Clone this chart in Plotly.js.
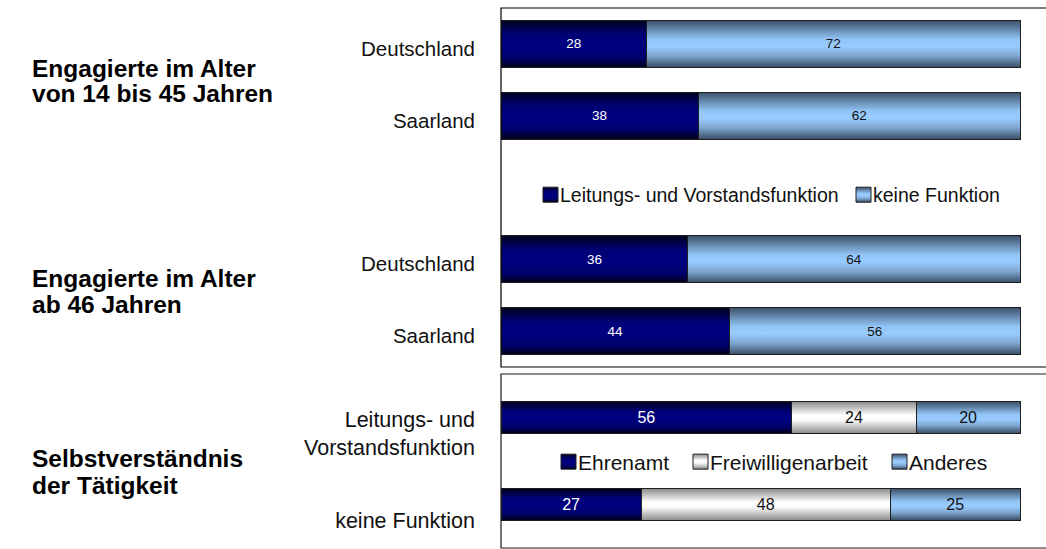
<!DOCTYPE html>
<html>
<head>
<meta charset="utf-8">
<script src="https://cdn.plot.ly/plotly-3.0.1.min.js"></script>
<style>
  html, body { margin: 0; padding: 0; background: #ffffff; }
  #chart { width: 1046px; height: 549px; }
  #defs { position: absolute; width: 0; height: 0; }
</style>
</head>
<body>
<svg id="defs" width="0" height="0">
  <defs>
    <linearGradient id="gNavy" x1="0" y1="0" x2="0" y2="1">
      <stop offset="0" stop-color="#00001c"/>
      <stop offset="0.3" stop-color="#000076"/>
      <stop offset="0.55" stop-color="#000080"/>
      <stop offset="0.8" stop-color="#00006c"/>
      <stop offset="1" stop-color="#000016"/>
    </linearGradient>
    <linearGradient id="gBlue" x1="0" y1="0" x2="0" y2="1">
      <stop offset="0" stop-color="#3a4f68"/>
      <stop offset="0.4" stop-color="#92c4f6"/>
      <stop offset="0.55" stop-color="#99ccff"/>
      <stop offset="0.75" stop-color="#7fa8d2"/>
      <stop offset="1" stop-color="#394c63"/>
    </linearGradient>
    <linearGradient id="gWhite" x1="0" y1="0" x2="0" y2="1">
      <stop offset="0" stop-color="#8a8a8a"/>
      <stop offset="0.42" stop-color="#ffffff"/>
      <stop offset="0.58" stop-color="#fbfbfb"/>
      <stop offset="1" stop-color="#8c8c8c"/>
    </linearGradient>
  </defs>
</svg>
<div id="chart"></div>
<script>
// ---- data ----
const groupTitles = [
  ['Engagierte im Alter', 'von 14 bis 45 Jahren'],
  ['Engagierte im Alter', 'ab 46 Jahren'],
  ['Selbstverständnis', 'der Tätigkeit']
];
const regionLabels = ['Deutschland', 'Saarland', 'Deutschland', 'Saarland'];
const leitungsfunktion = [28, 38, 36, 44];
const keineFunktion = [72, 62, 64, 56];
const topSeriesNames = ['Leitungs- und Vorstandsfunktion', 'keine Funktion'];

const roleLabels = ['Leitungs- und<br>Vorstandsfunktion', 'keine Funktion'];
const ehrenamt = [56, 27];
const freiwilligenarbeit = [24, 48];
const anderes = [20, 25];
const bottomSeriesNames = ['Ehrenamt', 'Freiwilligenarbeit', 'Anderes'];

// ---- layout helpers ----
// two age groups of two bars, with an empty slot between groups
const topSlots = regionLabels.map((_, i) => i + Math.floor(i / 2));
const bottomSlots = roleLabels.map((_, i) => i);

const FONT = '"Liberation Sans", Arial, sans-serif';
const NAVY = 'rgb(0, 0, 128)';
const BLUE = 'rgb(153, 204, 255)';
const WHITE = 'rgb(242, 242, 242)';
const OUTLINE = '#1e1e1e';

function barTrace(name, xs, ys, color, txtColor, txtSize, xa, ya, leg) {
  return {
    type: 'bar', orientation: 'h', name: name,
    x: xs, y: ys, xaxis: xa, yaxis: ya, legend: leg,
    marker: { color: color, line: { color: OUTLINE, width: 1 } },
    width: ya === 'y' ? 0.66 : 0.363,
    text: xs.map(String), textposition: 'inside', insidetextanchor: 'middle',
    textangle: 0, constraintext: 'none',
    textfont: { family: FONT, size: txtSize, color: txtColor },
    hoverinfo: 'skip'
  };
}

// one legend box per series so each key sits where the reference puts it
const traces = [
  barTrace(topSeriesNames[0], leitungsfunktion, topSlots, NAVY, '#ffffff', 13.5, 'x', 'y', 'legend'),
  barTrace(topSeriesNames[1], keineFunktion, topSlots, BLUE, '#111111', 13.5, 'x', 'y', 'legend2'),
  barTrace(bottomSeriesNames[0], ehrenamt, bottomSlots, NAVY, '#ffffff', 16, 'x2', 'y2', 'legend3'),
  barTrace(bottomSeriesNames[1], freiwilligenarbeit, bottomSlots, WHITE, '#111111', 16, 'x2', 'y2', 'legend4'),
  barTrace(bottomSeriesNames[2], anderes, bottomSlots, BLUE, '#111111', 16, 'x2', 'y2', 'legend5')
];

const H = 549, T = 8, B = 1, L = 501, W = 545;
const plotH = H - T - B;            // 540
const bottomPx = H - B;             // 548
const py = px => (bottomPx - px) / plotH;   // pixel row -> paper y
const pxx = px => (px - L) / W;             // pixel col -> paper x
const topDomain = [py(367), 1];
const botDomain = [0, py(374)];

const annotations = [];
const titleRows = [[68, 94], [278, 304], [458, 485]];
groupTitles.forEach((lines, g) => {
  lines.forEach((line, k) => {
    annotations.push({
      xref: 'paper', yref: 'paper', x: pxx(30), y: py(titleRows[g][k]),
      xanchor: 'left', yanchor: 'middle', showarrow: false,
      text: '<b>' + line + '</b>', align: 'left',
      font: { family: FONT, size: 24.5, color: '#000000' }
    });
  });
});

function legendBox(textStartPx, rowPx, size) {
  return {
    orientation: 'h', x: pxx(textStartPx - 40), xanchor: 'left', y: py(rowPx), yanchor: 'middle',
    font: { family: FONT, size: size, color: '#111111' }, bgcolor: 'rgba(0,0,0,0)',
    borderwidth: 0
  };
}

const layout = {
  width: 1046, height: 549,
  margin: { l: L, r: 0, t: T, b: B, pad: 0 },
  paper_bgcolor: '#ffffff', plot_bgcolor: 'rgba(0,0,0,0)',
  barmode: 'stack', bargap: 0,
  showlegend: true,
  font: { family: FONT, color: '#000000' },
  xaxis: { domain: [0, 1], range: [0, 105], anchor: 'y', visible: false, fixedrange: true },
  xaxis2: { domain: [0, 1], range: [0, 105], anchor: 'y2', visible: false, fixedrange: true },
  yaxis: {
    domain: topDomain, range: [4.5, -0.5], anchor: 'x',
    tickmode: 'array', tickvals: topSlots, ticktext: regionLabels,
    showgrid: false, zeroline: false, showline: false, ticks: '',
    ticklabelstandoff: 25, ticklabelshift: -5,
    tickfont: { family: FONT, size: 20.5, color: '#111111' }, fixedrange: true
  },
  yaxis2: {
    domain: botDomain, range: [1.5, -0.5], anchor: 'x2',
    tickmode: 'array', tickvals: bottomSlots, ticktext: roleLabels,
    showgrid: false, zeroline: false, showline: false, ticks: '',
    ticklabelstandoff: 25, ticklabelshift: -16,
    tickfont: { family: FONT, size: 21.5, color: '#111111' }, fixedrange: true
  },
  legend: legendBox(560, 195, 19.5),
  legend2: legendBox(873, 195, 19.5),
  legend3: legendBox(578, 462, 21),
  legend4: legendBox(710, 462, 21),
  legend5: legendBox(909, 462, 21),
  shapes: [
    { type: 'rect', xref: 'paper', yref: 'paper', x0: 0, x1: 1.2, y0: topDomain[0], y1: topDomain[1],
      line: { color: '#000000', width: 1.2 }, fillcolor: 'rgba(0,0,0,0)', layer: 'above' },
    { type: 'rect', xref: 'paper', yref: 'paper', x0: 0, x1: 1.2, y0: botDomain[0], y1: botDomain[1],
      line: { color: '#1a1a1a', width: 1.2 }, fillcolor: 'rgba(0,0,0,0)', layer: 'above' }
  ],
  annotations: annotations
};

function finishStyling() {
  const map = {};
  map[NAVY] = 'url(#gNavy)';
  map[BLUE] = 'url(#gBlue)';
  map[WHITE] = 'url(#gWhite)';
  document.querySelectorAll('#chart path').forEach(p => {
    const f = p.style.fill;
    if (map[f]) p.style.fill = map[f];
  });
  // larger legend keys placed right before their text
  document.querySelectorAll('#chart g.legendpoints path').forEach(p => {
    p.setAttribute('d', 'M18,7.5H3V-7.5H18Z');
  });
}

Plotly.newPlot('chart', traces, layout, { staticPlot: true, displayModeBar: false })
  .then(() => {
    finishStyling();
    requestAnimationFrame(finishStyling);
    setTimeout(finishStyling, 60);
    setTimeout(finishStyling, 300);
  });
</script>
</body>
</html>
